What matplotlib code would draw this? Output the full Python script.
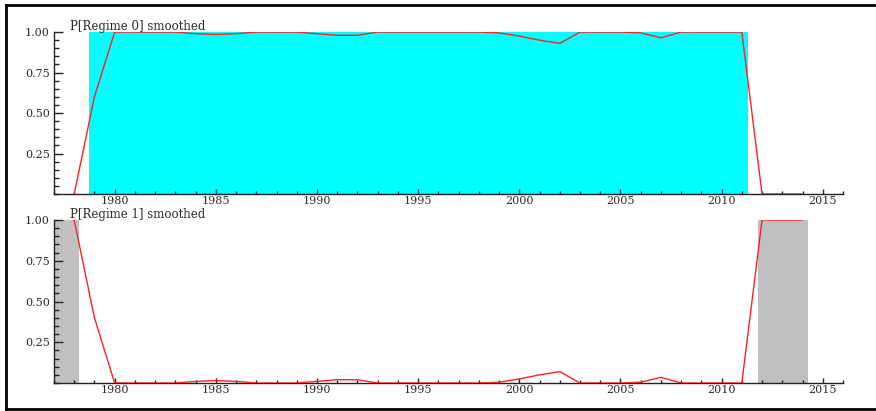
import matplotlib
matplotlib.use("Agg")
import matplotlib.pyplot as plt
from matplotlib.lines import Line2D
from matplotlib.ticker import MultipleLocator, FixedLocator, FormatStrFormatter
from matplotlib.transforms import offset_copy

# annual observations 1978-2014
years = list(range(1978, 2015))
p_regime0 = [0.00, 0.60, 1.00, 1.00, 1.00, 1.00, 0.99, 0.985, 0.99, 1.00,
             1.00, 1.00, 0.99, 0.98, 0.98, 1.00, 1.00, 1.00, 1.00, 1.00,
             1.00, 0.995, 0.975, 0.95, 0.93, 1.00, 1.00, 1.00, 0.995, 0.965,
             1.00, 1.00, 1.00, 1.00, 0.00, 0.00, 0.00]
p_regime1 = [1.00, 0.40, 0.00, 0.00, 0.00, 0.00, 0.01, 0.015, 0.01, 0.00,
             0.00, 0.00, 0.01, 0.02, 0.02, 0.00, 0.00, 0.00, 0.00, 0.00,
             0.00, 0.005, 0.025, 0.05, 0.07, 0.00, 0.00, 0.00, 0.005, 0.035,
             0.00, 0.00, 0.00, 0.00, 1.00, 1.00, 1.00]

# classified regime periods (shaded)
regime0_spans = [(1978.75, 2011.3)]
regime1_spans = [(1977.0, 1978.25), (2011.8, 2014.25)]

titles = ["P[Regime 0] smoothed", "P[Regime 1] smoothed"]
y_ticks = [0.25, 0.50, 0.75, 1.00]

txt_color = "#2e2a26"
plt.rcParams["font.family"] = ["DejaVu Serif"]
plt.rcParams["font.size"] = 8

fig = plt.figure(figsize=(8.76, 4.11), dpi=100)
ax_top = fig.add_axes([0.0616, 0.528, 0.9007, 0.394])
ax_bot = fig.add_axes([0.0616, 0.0681, 0.9007, 0.3966])

panels = [
    (ax_top, p_regime0, regime0_spans, "#00ffff", titles[0]),
    (ax_bot, p_regime1, regime1_spans, "#c0c0c0", titles[1]),
]

for ax, probs, spans, shade, title in panels:
    for x0, x1 in spans:
        ax.axvspan(x0, x1, color=shade, lw=0, zorder=1)
    ax.plot(years, probs, color="#ff2020", lw=1.0, zorder=3)

    ax.set_xlim(1977, 2016)
    ax.set_ylim(0, 1.0)
    ax.spines["top"].set_visible(False)
    ax.spines["right"].set_visible(False)
    for s in ("left", "bottom"):
        ax.spines[s].set_linewidth(1.0)
        ax.spines[s].set_color("#222222")

    ax.xaxis.set_major_locator(FixedLocator(range(1980, 2016, 5)))
    ax.xaxis.set_minor_locator(MultipleLocator(1))
    ax.yaxis.set_major_locator(FixedLocator(y_ticks))
    ax.yaxis.set_minor_locator(MultipleLocator(0.05))
    ax.yaxis.set_major_formatter(FormatStrFormatter("%.2f"))

    ax.tick_params(axis="x", which="major", direction="in", length=3.5, width=1, pad=1.5, colors="#222222", labelcolor=txt_color)
    ax.tick_params(axis="x", which="minor", direction="in", length=2, width=1, colors="#222222")
    ax.tick_params(axis="y", which="major", direction="in", length=6.5, width=1, pad=3, colors="#222222", labelcolor=txt_color)
    ax.tick_params(axis="y", which="minor", direction="in", length=3.5, width=1, colors="#222222")

    # title sits just above the plot area, baseline ~2px over the top
    tr = offset_copy(ax.transAxes, fig=fig, x=0, y=2, units="dots")
    ax.text(0.02, 1.0, title, transform=tr, ha="left", va="baseline",
            color=txt_color, fontsize=8.5)

# black frame around the picture (left, top, bottom)
fw, fh = 876.0, 411.0
for xs, ys in [([6 / fw, 1.0], [1 - 5 / fh, 1 - 5 / fh]),
               ([6 / fw, 6 / fw], [2 / fh, 1 - 5 / fh]),
               ([6 / fw, 1.0], [2 / fh, 2 / fh])]:
    fig.add_artist(Line2D(xs, ys, transform=fig.transFigure, color="black", lw=2.0))

fig.savefig("out.png", dpi=100)
